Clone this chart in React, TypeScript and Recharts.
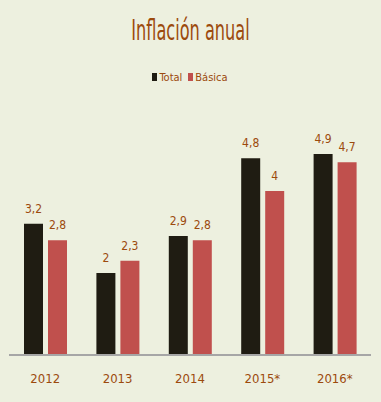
import React from 'react';
import { BarChart, Bar, XAxis, YAxis, Legend, LabelList } from 'recharts';

const years = ['2012', '2013', '2014', '2015*', '2016*'];
const totalValues = [3.2, 2, 2.9, 4.8, 4.9];
const basicaValues = [2.8, 2.3, 2.8, 4, 4.7];

const data = years.map((year, i) => ({ year, total: totalValues[i], basica: basicaValues[i] }));

const FONT = '"Liberation Sans Narrow", "DejaVu Sans Condensed", "Liberation Sans", sans-serif';
const BROWN = '#9c4a0d';

const fmt = (v: any) => String(v).replace('.', ',');

const LegendContent = () => (
  <div style={{ display: 'flex', justifyContent: 'center', alignItems: 'center', height: 14, fontFamily: FONT, fontSize: 11, color: BROWN }}>
    <span style={{ width: 5, height: 8, background: '#1f1c12', marginRight: 2 }} />
    <span style={{ marginRight: 6 }}>Total</span>
    <span style={{ width: 5, height: 8, background: '#c0504d', marginRight: 2 }} />
    <span>Básica</span>
  </div>
);

export default function App() {
  return (
    <div style={{ position: 'absolute', left: 0, top: 0, width: 381, height: 402, background: '#edf0df' }}>
      <div
        style={{
          position: 'absolute', top: 17, width: '100%', textAlign: 'center', fontFamily: FONT,
          fontSize: 23, color: BROWN, transform: 'scale(0.78, 1.2)',
        }}
      >
        Inflación anual
      </div>
      <BarChart width={381} height={402} data={data} margin={{ top: 70, right: 10, left: 9, bottom: 17 }} barSize={19} barGap={5}>
        <Legend verticalAlign="top" content={<LegendContent />} />
        <YAxis hide domain={[0, 6]} padding={{ top: 25 }} />
        <XAxis
          dataKey="year"
          height={30}
          axisLine={{ stroke: '#a6a6a6', strokeWidth: 2 }}
          tickLine={false}
          tickSize={0}
          tickMargin={19}
          tick={{ fill: BROWN, fontSize: 13, fontFamily: FONT }}
        />
        <Bar dataKey="total" fill="#1f1c12" isAnimationActive={false}>
          <LabelList dataKey="total" position="top" offset={11} formatter={fmt} fill={BROWN} fontSize={12} fontFamily={FONT} />
        </Bar>
        <Bar dataKey="basica" fill="#c0504d" isAnimationActive={false}>
          <LabelList dataKey="basica" position="top" offset={11} formatter={fmt} fill={BROWN} fontSize={12} fontFamily={FONT} />
        </Bar>
      </BarChart>
    </div>
  );
}
